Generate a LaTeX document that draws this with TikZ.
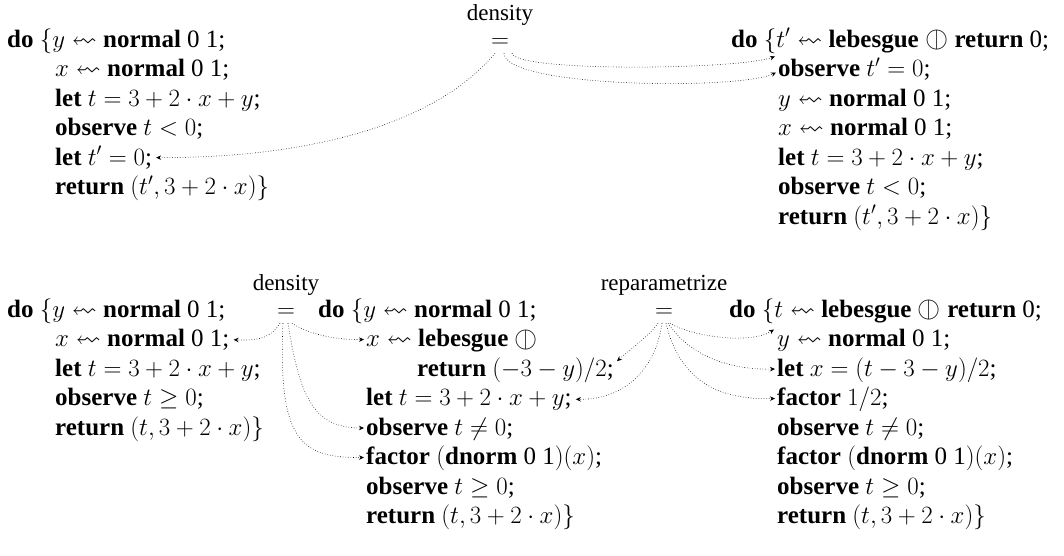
\documentclass[tikz,border=0pt]{standalone}
\usepackage{amssymb}
\usepackage{stmaryrd}
\usepackage{fontspec}
\setmainfont{Liberation Serif}
\usetikzlibrary{arrows.meta,calc}
\newcommand\kw[1]{\textbf{#1}}
\newcommand\sqa{\mathrel{\reflectbox{$\rightsquigarrow$}}}
\newcommand\ob{\mathbin{\raisebox{-0.5pt}{\scalebox{1.2}{$\obar$}}}}
\begin{document}
\begin{tikzpicture}[x=1pt,y=-1pt,
  ln/.style={anchor=base west, inner sep=0pt, font=\fontsize{25}{30}\selectfont},
  lab/.style={anchor=base, inner sep=0pt, font=\fontsize{23}{28}\selectfont},
  eqn/.style={anchor=base, inner sep=0pt, font=\fontsize{25}{30}\selectfont},
  conn/.style={dotted, line width=0.6pt, -{Stealth[length=5pt,width=4.5pt]}}]
\useasboundingbox (0,0) rectangle (1064,555);
% ---------- top left
\node[ln] (tl1) at (7,47) {\kw{do} $\{y \sqa$ \kw{normal} 0 1;};
\node[ln] (tl2) at (55,76.5) {$x \sqa$ \kw{normal} 0 1;};
\node[ln] (tl3) at (55,106) {\kw{let} $t = 3 + 2 \cdot x + y$;};
\node[ln] (tl4) at (55,135.5) {\kw{observe} $t < 0$;};
\node[ln] (tl5) at (55,165) {\kw{let} $t' = 0$;};
\node[ln] (tl6) at (55,194.5) {\kw{return} $(t', 3 + 2 \cdot x)\}$};
% ---------- top middle
\node[lab] (d1) at (500,20) {density};
\node[eqn] (eq1) at (500,47) {$=$};
% ---------- top right
\node[ln] (tr1) at (731,47) {\kw{do} $\{t' \sqa$ \kw{lebesgue} $\ob$ \kw{return} 0;};
\node[ln] (tr2) at (778,76.5) {\kw{observe} $t' = 0$;};
\node[ln] (tr3) at (778,106) {$y \sqa$ \kw{normal} 0 1;};
\node[ln] (tr4) at (778,135.5) {$x \sqa$ \kw{normal} 0 1;};
\node[ln] (tr5) at (778,165) {\kw{let} $t = 3 + 2 \cdot x + y$;};
\node[ln] (tr6) at (778,194.5) {\kw{observe} $t < 0$;};
\node[ln] (tr7) at (778,224) {\kw{return} $(t', 3 + 2 \cdot x)\}$};
% ---------- bottom left
\node[ln] (bl1) at (7,317) {\kw{do} $\{y \sqa$ \kw{normal} 0 1;};
\node[ln] (bl2) at (55,346.5) {$x \sqa$ \kw{normal} 0 1;};
\node[ln] (bl3) at (55,376) {\kw{let} $t = 3 + 2 \cdot x + y$;};
\node[ln] (bl4) at (55,405.5) {\kw{observe} $t \geq 0$;};
\node[ln] (bl5) at (55,435) {\kw{return} $(t, 3 + 2 \cdot x)\}$};
% ---------- bottom labels
\node[lab] (d2) at (286,290) {density};
\node[eqn] (eq2) at (286,317) {$=$};
\node[lab] (rp) at (664,290) {reparametrize};
\node[eqn] (eq3) at (664,317) {$=$};
% ---------- bottom middle
\node[ln] (bm1) at (318,317) {\kw{do} $\{y \sqa$ \kw{normal} 0 1;};
\node[ln] (bm2) at (366,346.5) {$x \sqa$ \kw{lebesgue} $\ob$};
\node[ln] (bm3) at (417,376) {\kw{return} $(-3 - y)/2$;};
\node[ln] (bm4) at (366,405.5) {\kw{let} $t = 3 + 2 \cdot x + y$;};
\node[ln] (bm5) at (366,435) {\kw{observe} $t \neq 0$;};
\node[ln] (bm6) at (366,464.5) {\kw{factor} $(\mbox{\kw{dnorm} 0 1})(x)$;};
\node[ln] (bm7) at (366,494) {\kw{observe} $t \geq 0$;};
\node[ln] (bm8) at (366,523.5) {\kw{return} $(t, 3 + 2 \cdot x)\}$};
% ---------- bottom right
\node[ln] (br1) at (729,317) {\kw{do} $\{t \sqa$ \kw{lebesgue} $\ob$ \kw{return} 0;};
\node[ln] (br2) at (777,346.5) {$y \sqa$ \kw{normal} 0 1;};
\node[ln] (br3) at (777,376) {\kw{let} $x = (t - 3 - y)/2$;};
\node[ln] (br4) at (777,405.5) {\kw{factor} $1/2$;};
\node[ln] (br5) at (777,435) {\kw{observe} $t \neq 0$;};
\node[ln] (br6) at (777,464.5) {\kw{factor} $(\mbox{\kw{dnorm} 0 1})(x)$;};
\node[ln] (br7) at (777,494) {\kw{observe} $t \geq 0$;};
\node[ln] (br8) at (777,523.5) {\kw{return} $(t, 3 + 2 \cdot x)\}$};
% ---------- connectors (top)
\draw[conn] ($(eq1.south)+(-5,6)$) .. controls (440,120) and (320,158) .. ($(tl5.east)+(4,0)$);
\draw[conn] ($(eq1.south)+(12,6)$) .. controls (515,72) and (735,70) .. ($(tr2.base west)+(-3,-20)$);
\draw[conn] ($(eq1.south)+(4,6)$) .. controls (505,88) and (740,90) .. ($(tr2.base west)+(-2,-4)$);
% ---------- connectors (bottom, density)
\draw[conn] ($(eq2.south)+(-6,6)$) .. controls (272,336) and (262,341) .. ($(bl2.east)+(4,0)$);
\draw[conn] ($(eq2.south)+(6,6)$) .. controls (305,332) and (330,340) .. ($(bm2.base west)+(-2,-7)$);
\draw[conn] ($(eq2.south)+(2,6)$) .. controls (300,400) and (315,428) .. ($(bm5.base west)+(-2,-7)$);
\draw[conn] ($(eq2.south)+(-3,6)$) .. controls (278,440) and (300,458) .. ($(bm6.base west)+(-2,-7)$);
% ---------- connectors (bottom, reparametrize)
\draw[conn] ($(eq3.south)+(-6,6)$) .. controls (650,335) and (632,348) .. ($(bm3.north east)+(3,4)$);
\draw[conn] ($(eq3.south)+(-2,6)$) .. controls (655,372) and (622,400) .. ($(bm4.east)+(4,0)$);
\draw[conn] ($(eq3.south)+(6,6)$) .. controls (690,336) and (750,345) .. ($(br2.base west)+(-3,-17)$);
\draw[conn] ($(eq3.south)+(4,6)$) .. controls (690,356) and (730,370) .. ($(br3.base west)+(-2,-7)$);
\draw[conn] ($(eq3.south)+(2,6)$) .. controls (680,382) and (720,400) .. ($(br4.base west)+(-2,-7)$);
\end{tikzpicture}
\end{document}
